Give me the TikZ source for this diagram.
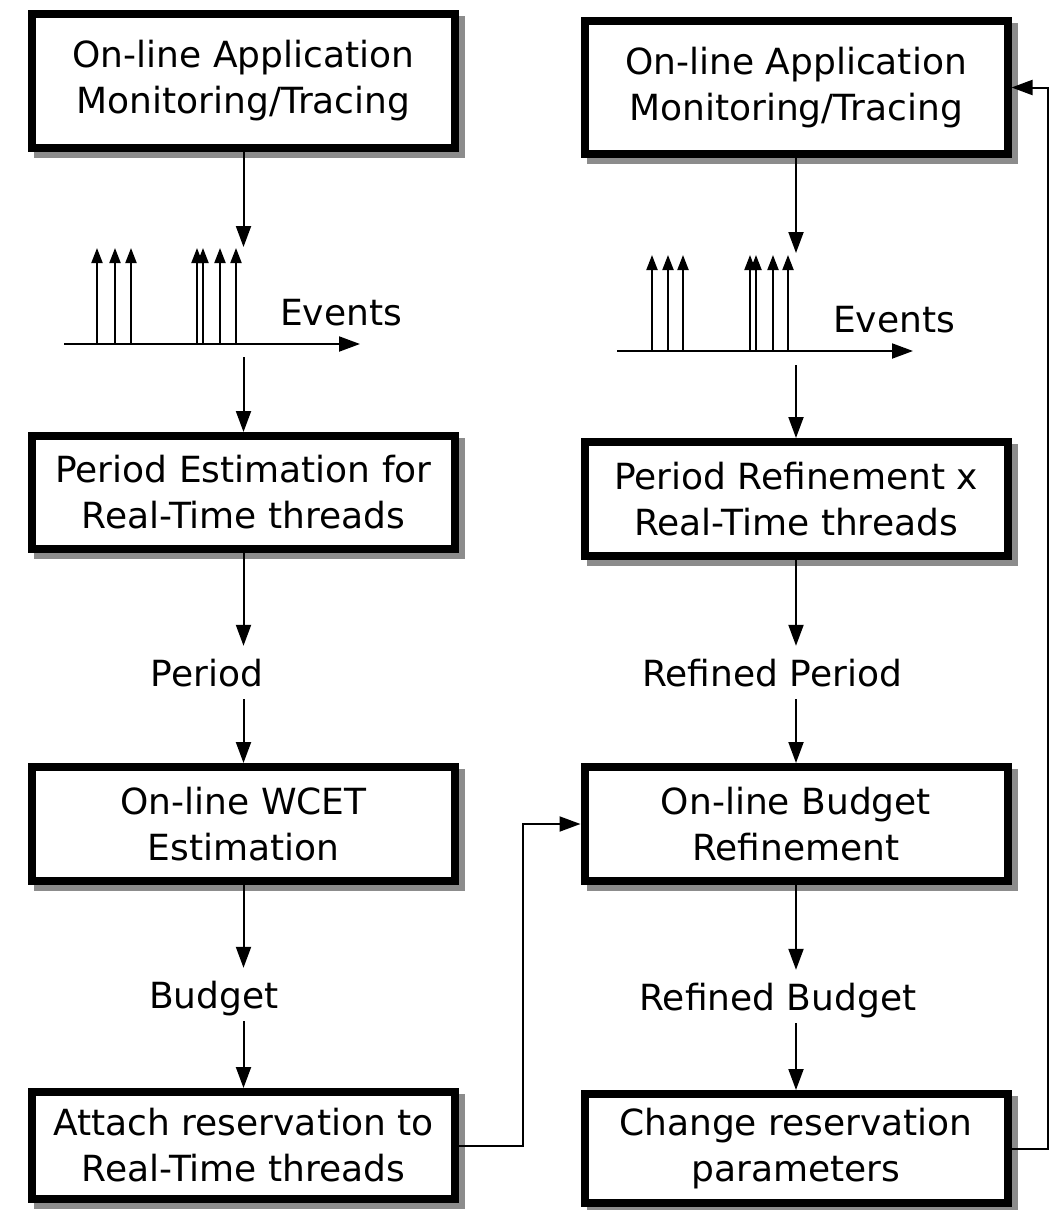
\documentclass[tikz,border=0pt]{standalone}
\usepackage{fontspec}
\setmainfont{DejaVu Sans}
\usetikzlibrary{arrows.meta}
\definecolor{shade}{gray}{0.55}

\begin{document}
\begin{tikzpicture}[x=1pt,y=-1pt,
  box/.style={draw=black, fill=white, line width=8pt, minimum width=423pt,
    align=center, inner sep=0pt, font=\fontsize{36}{46}\selectfont,
    preaction={fill=shade, draw=shade, line width=8pt,
      transform canvas={shift={(6pt,-6pt)}}}},
  flow/.style={line width=2pt, -{Triangle[length=21pt,width=15pt]}},
  ev/.style={line width=2pt, -{Triangle[length=15pt,width=11pt]}},
  lbl/.style={font=\fontsize{36}{46}\selectfont, inner xsep=0pt, inner ysep=13pt,
    text height=27pt, text depth=0pt, anchor=base},
]
\useasboundingbox (0,0) rectangle (1059,1210);

% ---- left column: first estimation ----
\node[box, minimum height=134pt] (L1) at (243.5,81) {On-line Application\\Monitoring/Tracing};
\node[box, minimum height=113pt] (L2) at (243.5,492.5) {Period Estimation for\\Real-Time threads};
\node[box, minimum height=114pt] (L3) at (243.5,824) {On-line WCET\\Estimation};
\node[box, minimum height=107pt] (L4) at (243.5,1145.5) {Attach reservation to\\Real-Time threads};

% ---- right column: refinement loop ----
\node[box, minimum height=133pt] (R1) at (796,87.5) {On-line Application\\Monitoring/Tracing};
\node[box, minimum height=114pt] (R2) at (796,499) {Period Refinement x\\Real-Time threads};
\node[box, minimum height=114pt] (R3) at (796,824) {On-line Budget\\Refinement};
\node[box, minimum height=109pt] (R4) at (796,1148.5) {Change reservation\\parameters};

% ---- event trace, left ----
\coordinate (Lin) at (243.5,247);
\coordinate (Lout) at (243.5,357);
\coordinate (LaxS) at (64,344);
\coordinate (LaxE) at (360,344);
\draw[flow] (L1.south) -- (Lin);
\draw[flow] (LaxS) -- (LaxE);
\foreach \x in {97,115,131,197,203,220,236}
  \draw[ev] (\x,344) -- (\x,248);
\node[lbl] (Lev) at (341,325) {Events};
\draw[flow] (Lout) -- (L2.north);

% ---- event trace, right ----
\coordinate (Rin) at (796,253);
\coordinate (Rout) at (796,365);
\coordinate (RaxS) at (617,351);
\coordinate (RaxE) at (913,351);
\draw[flow] (R1.south) -- (Rin);
\draw[flow] (RaxS) -- (RaxE);
\foreach \x in {652,668,683,750,756,773,788}
  \draw[ev] (\x,351) -- (\x,255);
\node[lbl] (Rev) at (894,332) {Events};
\draw[flow] (Rout) -- (R2.north);

% ---- left data labels ----
\node[lbl] (Lp) at (207,686) {Period};
\node[lbl] (Lb) at (214,1008) {Budget};
\draw[flow] (L2.south) -- (L2.south |- Lp.north);
\draw[flow] (L2.south |- Lp.south) -- (L3.north);
\draw[flow] (L3.south) -- (L3.south |- Lb.north);
\draw[flow] (L3.south |- Lb.south) -- (L4.north);

% ---- right data labels ----
\node[lbl] (Rp) at (772,686) {Refined Period};
\node[lbl] (Rb) at (778,1010) {Refined Budget};
\draw[flow] (R2.south) -- (R2.south |- Rp.north);
\draw[flow] (R2.south |- Rp.south) -- (R3.north);
\draw[flow] (R3.south) -- (R3.south |- Rb.north);
\draw[flow] (R3.south |- Rb.south) -- (R4.north);

% ---- cross links ----
\draw[flow] (L4.east) -- ++(64,0) |- (R3.west);
\draw[flow] (R4.east) -- ++(36,0) |- (R1.east);
\end{tikzpicture}
\end{document}
